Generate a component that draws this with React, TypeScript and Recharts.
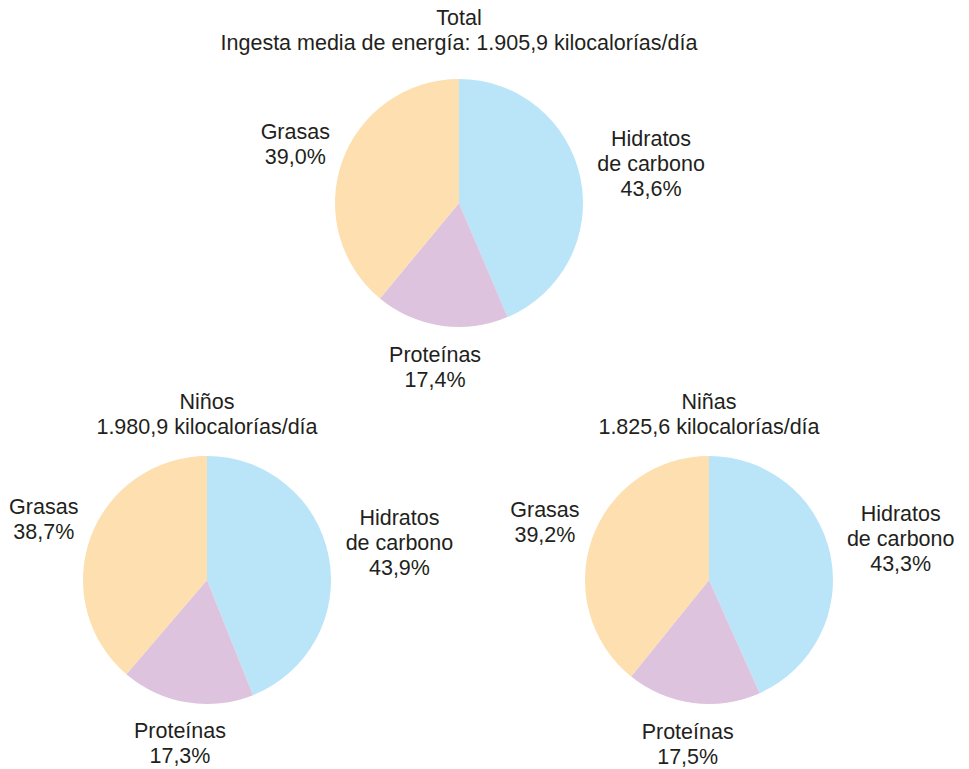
import { PieChart, Pie, Cell } from 'recharts';

const categories = ['Hidratos de carbono', 'Proteínas', 'Grasas'];
const categoryLines = [['Hidratos', 'de carbono'], ['Proteínas'], ['Grasas']];
const totalValues = [43.6, 17.4, 39.0];
const ninosValues = [43.9, 17.3, 38.7];
const ninasValues = [43.3, 17.5, 39.2];
const totalTitle = ['Total', 'Ingesta media de energía: 1.905,9 kilocalorías/día'];
const ninosTitle = ['Niños', '1.980,9 kilocalorías/día'];
const ninasTitle = ['Niñas', '1.825,6 kilocalorías/día'];

const COLORS = ['#bae4f8', '#ddc3dd', '#fddfb0'];
const TEXT = '#231f20';
const FONT = '"Liberation Sans", Arial, sans-serif';
const FONT_SIZE = 21.5;
const RADIAN = Math.PI / 180;
const LINE_H = 25;
// extra distance of each label from the pie edge
const LABEL_GAP = [72, 42, 50];

const toRows = (values: number[]) =>
  categories.map((name, i) => ({ name, value: values[i] }));

const fmt = (v: number) => `${v.toFixed(1).replace('.', ',')}%`;

// eslint-disable-next-line @typescript-eslint/no-explicit-any
function renderLabel(props: any) {
  const { cx, cy, midAngle, outerRadius, index, value } = props;
  const r = outerRadius + LABEL_GAP[index];
  const x = cx + r * Math.cos(-midAngle * RADIAN);
  const y = cy + r * Math.sin(-midAngle * RADIAN);
  const lines = [...categoryLines[index], fmt(value)];
  const top = y - ((lines.length - 1) / 2) * LINE_H;
  return (
    <text
      key={`lbl-${index}`}
      textAnchor="middle"
      fill={TEXT}
      fontSize={FONT_SIZE}
      fontFamily={FONT}
    >
      {lines.map((l, i) => (
        <tspan key={i} x={x} y={top + i * LINE_H} dominantBaseline="central">
          {l}
        </tspan>
      ))}
    </text>
  );
}

function Title({ lines, x, y }: { lines: string[]; x: number; y: number }) {
  return (
    <div
      style={{
        position: 'absolute',
        left: x - 300,
        top: y,
        width: 600,
        textAlign: 'center',
        fontFamily: FONT,
        fontSize: FONT_SIZE,
        lineHeight: `${LINE_H}px`,
        color: TEXT,
      }}
    >
      {lines.map((l) => (
        <div key={l}>{l}</div>
      ))}
    </div>
  );
}

const pies = [
  { values: totalValues, cx: 459, cy: 203 },
  { values: ninosValues, cx: 207, cy: 580 },
  { values: ninasValues, cx: 709, cy: 580 },
];

export default function App() {
  return (
    <div
      style={{
        position: 'absolute',
        left: 0,
        top: 0,
        width: 969,
        height: 769,
        background: '#fff',
      }}
    >
      <PieChart width={969} height={769} margin={{ top: 0, right: 0, bottom: 0, left: 0 }}>
        {pies.map((p, k) => (
          <Pie
            key={k}
            data={toRows(p.values)}
            dataKey="value"
            nameKey="name"
            cx={p.cx}
            cy={p.cy}
            outerRadius={124}
            startAngle={90}
            endAngle={-270}
            stroke="none"
            label={renderLabel}
            labelLine={false}
            isAnimationActive={false}
          >
            {p.values.map((_, i) => (
              <Cell key={i} fill={COLORS[i]} />
            ))}
          </Pie>
        ))}
      </PieChart>
      <Title lines={totalTitle} x={459} y={6} />
      <Title lines={ninosTitle} x={207} y={390} />
      <Title lines={ninasTitle} x={709} y={390} />
    </div>
  );
}
